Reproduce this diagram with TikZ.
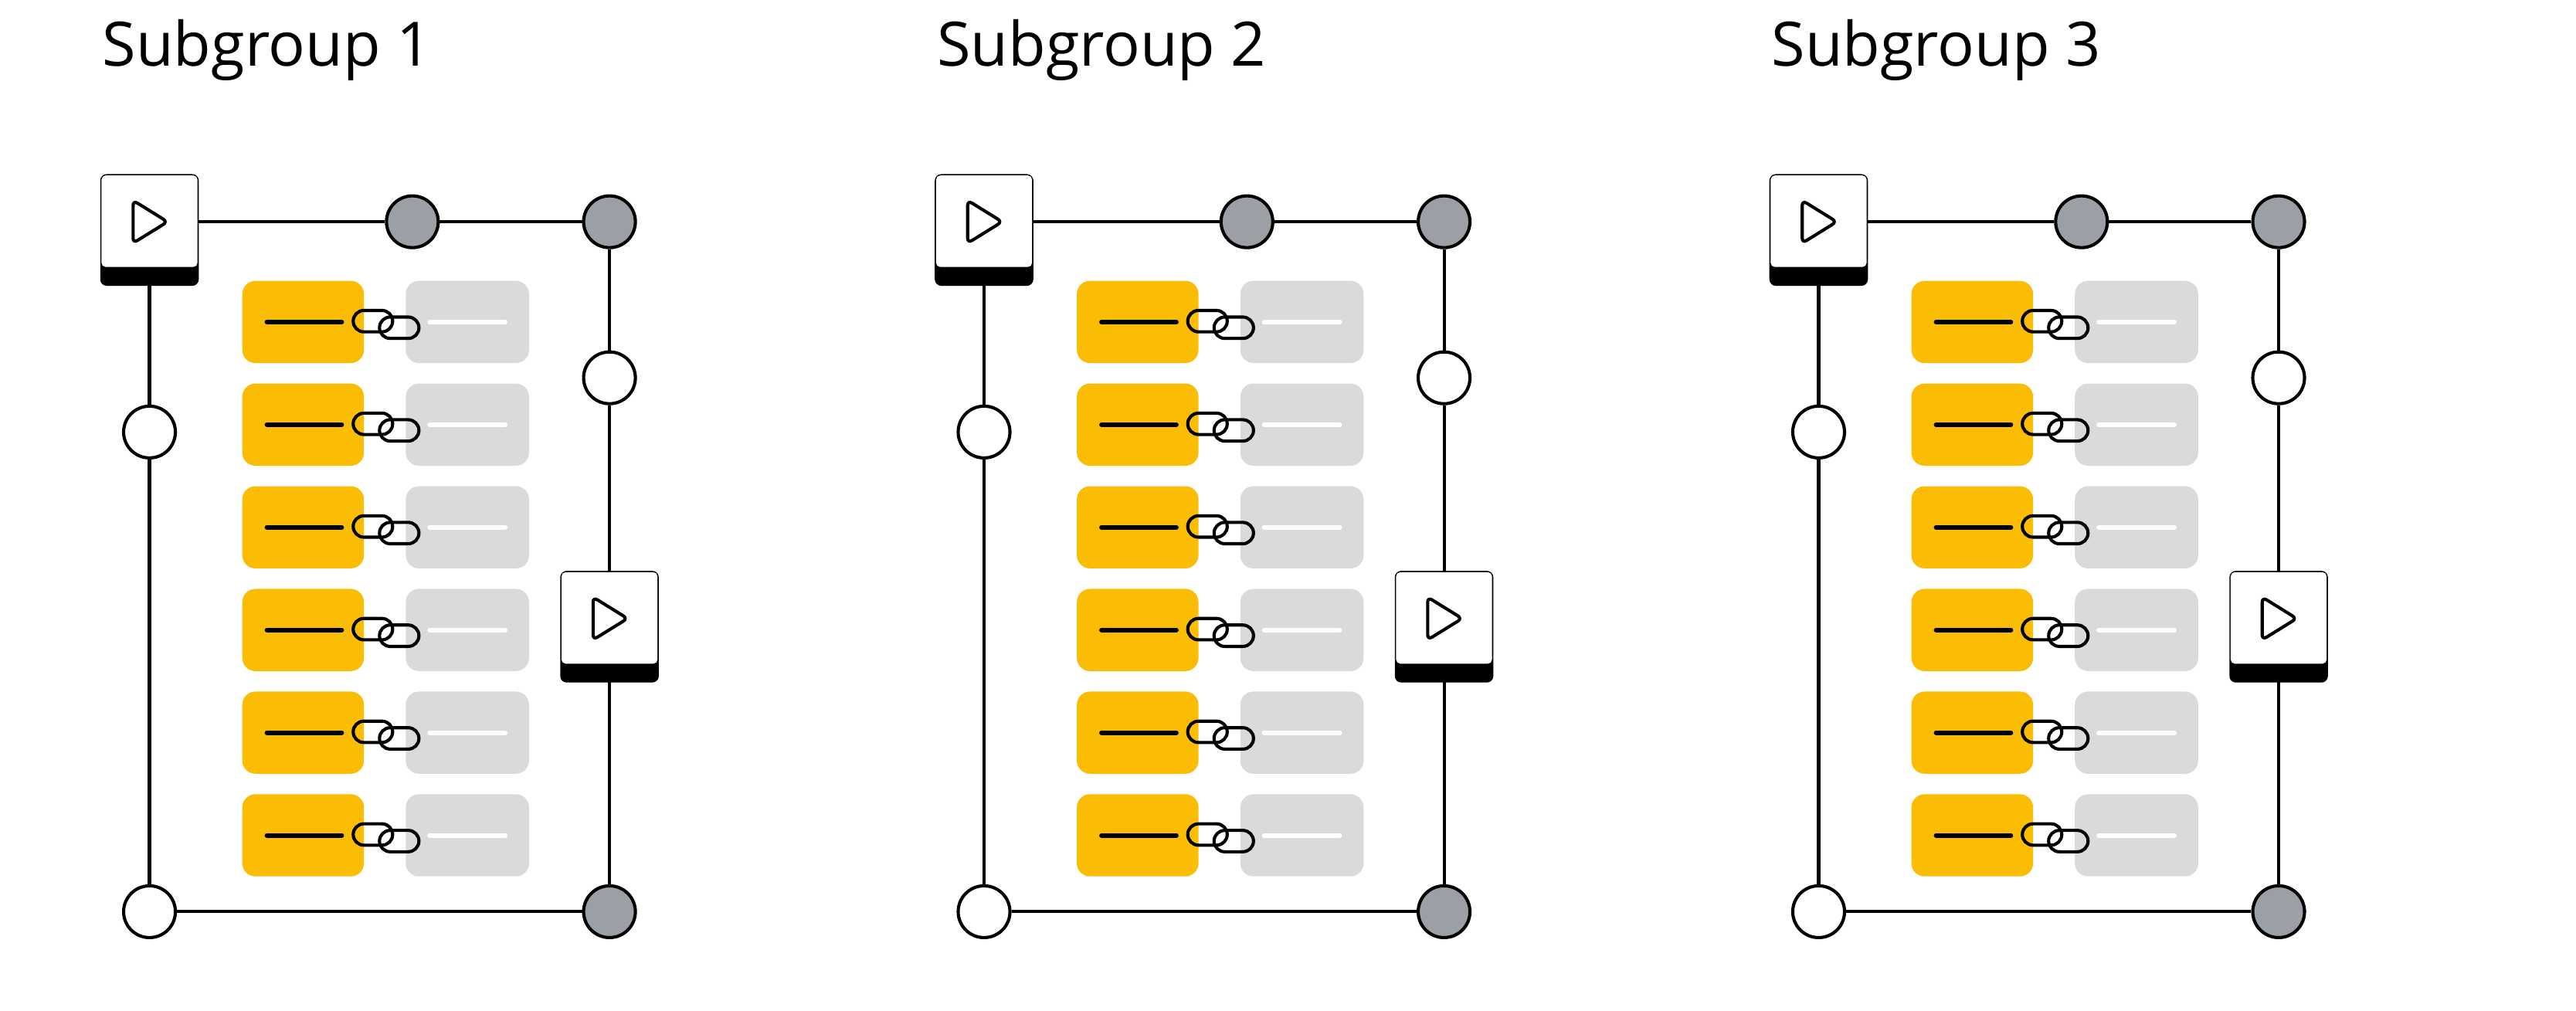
\documentclass[tikz,border=0pt]{standalone}
\usepackage{fontspec}
\setmainfont{Open Sans}
\usetikzlibrary{positioning,calc}
\definecolor{amber}{HTML}{FABD03}
\definecolor{pale}{HTML}{D9DAD9}
\definecolor{slate}{HTML}{9AA0A6}
\begin{document}
\begin{tikzpicture}[x=0.01cm,y=-0.01cm,
wire/.style={line width=0.55pt},
dot/.style={circle,draw,line width=0.55pt,fill=white,minimum size=0.315cm,inner sep=0pt},
gdot/.style={dot,fill=slate},
play/.style={draw,line width=0.55pt,fill=black,rounded corners=0.03cm,minimum width=0.58cm,minimum height=0.66cm,inner sep=0pt},
ybox/.style={fill=amber,rounded corners=0.08cm,minimum width=0.74cm,minimum height=0.5cm,inner sep=0pt},
gbox/.style={fill=pale,rounded corners=0.08cm,minimum width=0.75cm,minimum height=0.5cm,inner sep=0pt},
link/.style={draw,line width=0.55pt,rounded corners=0.065cm,minimum width=0.24cm,minimum height=0.13cm,inner sep=0pt}]
\useasboundingbox (0,0) rectangle (1568,615);
\newcommand\playicon[3]{% name, x, y (centre)
  \node (#1) [play] at (#2,#3) {};
  \fill[white,rounded corners=0.025cm] ($(#1.north west)+(0.8,0.8)$) rectangle ($(#1.north east)+(-0.8,56.5)$);
  \draw[line width=0.55pt,rounded corners=0.03cm] ($(#1.north west)+(20,16)$) -- ($(#1.north west)+(20,42)$) -- ($(#1.north west)+(41,29)$) -- cycle;
}
\foreach \g/\dx in {1/0,2/508,3/1016}{
\begin{scope}[shift={(\dx,0)}]
\node [anchor=base west,font=\fontsize{10.6}{13}\selectfont] at (50,40) {Subgroup \g};
% frame
\node (tm\g) [gdot] at (251,135) {};
\node (tr\g) [gdot] at (371,135) {};
\node (rm\g) [dot] at (371,230) {};
\node (lm\g) [dot] at (91,263) {};
\node (bl\g) [dot] at (91,555) {};
\node (br\g) [gdot] at (371,555) {};
\draw[wire] (120,135) -- (tm\g) -- (tr\g) -- (rm\g);
\draw[wire] (rm\g) -- (371,400);
\draw[wire] (91,160) -- (lm\g) -- (bl\g) -- (br\g) -- (371,400);
\playicon{pa\g}{91}{140}
\playicon{pb\g}{371}{381.5}
% rows
\foreach \r in {0,...,5}{
  \node (y\g\r) [ybox] at (184.5,196+62.5*\r) {};
  \node (s\g\r) [gbox] at (284.5,196+62.5*\r) {};
  \draw[line width=0.8pt,line cap=round] ($(y\g\r.center)+(-22,0)$) -- ($(y\g\r.center)+(23.5,0)$);
  \draw[white,line width=0.8pt,line cap=round] ($(s\g\r.center)+(-23,0)$) -- ($(s\g\r.center)+(23,0)$);
  \node (ca\g\r) [link] at ($(y\g\r.center)+(42.5,-0.5)$) {};
  \node (cb\g\r) [link] at ($(y\g\r.center)+(58.5,3.5)$) {};
}
\end{scope}}
\end{tikzpicture}
\end{document}
